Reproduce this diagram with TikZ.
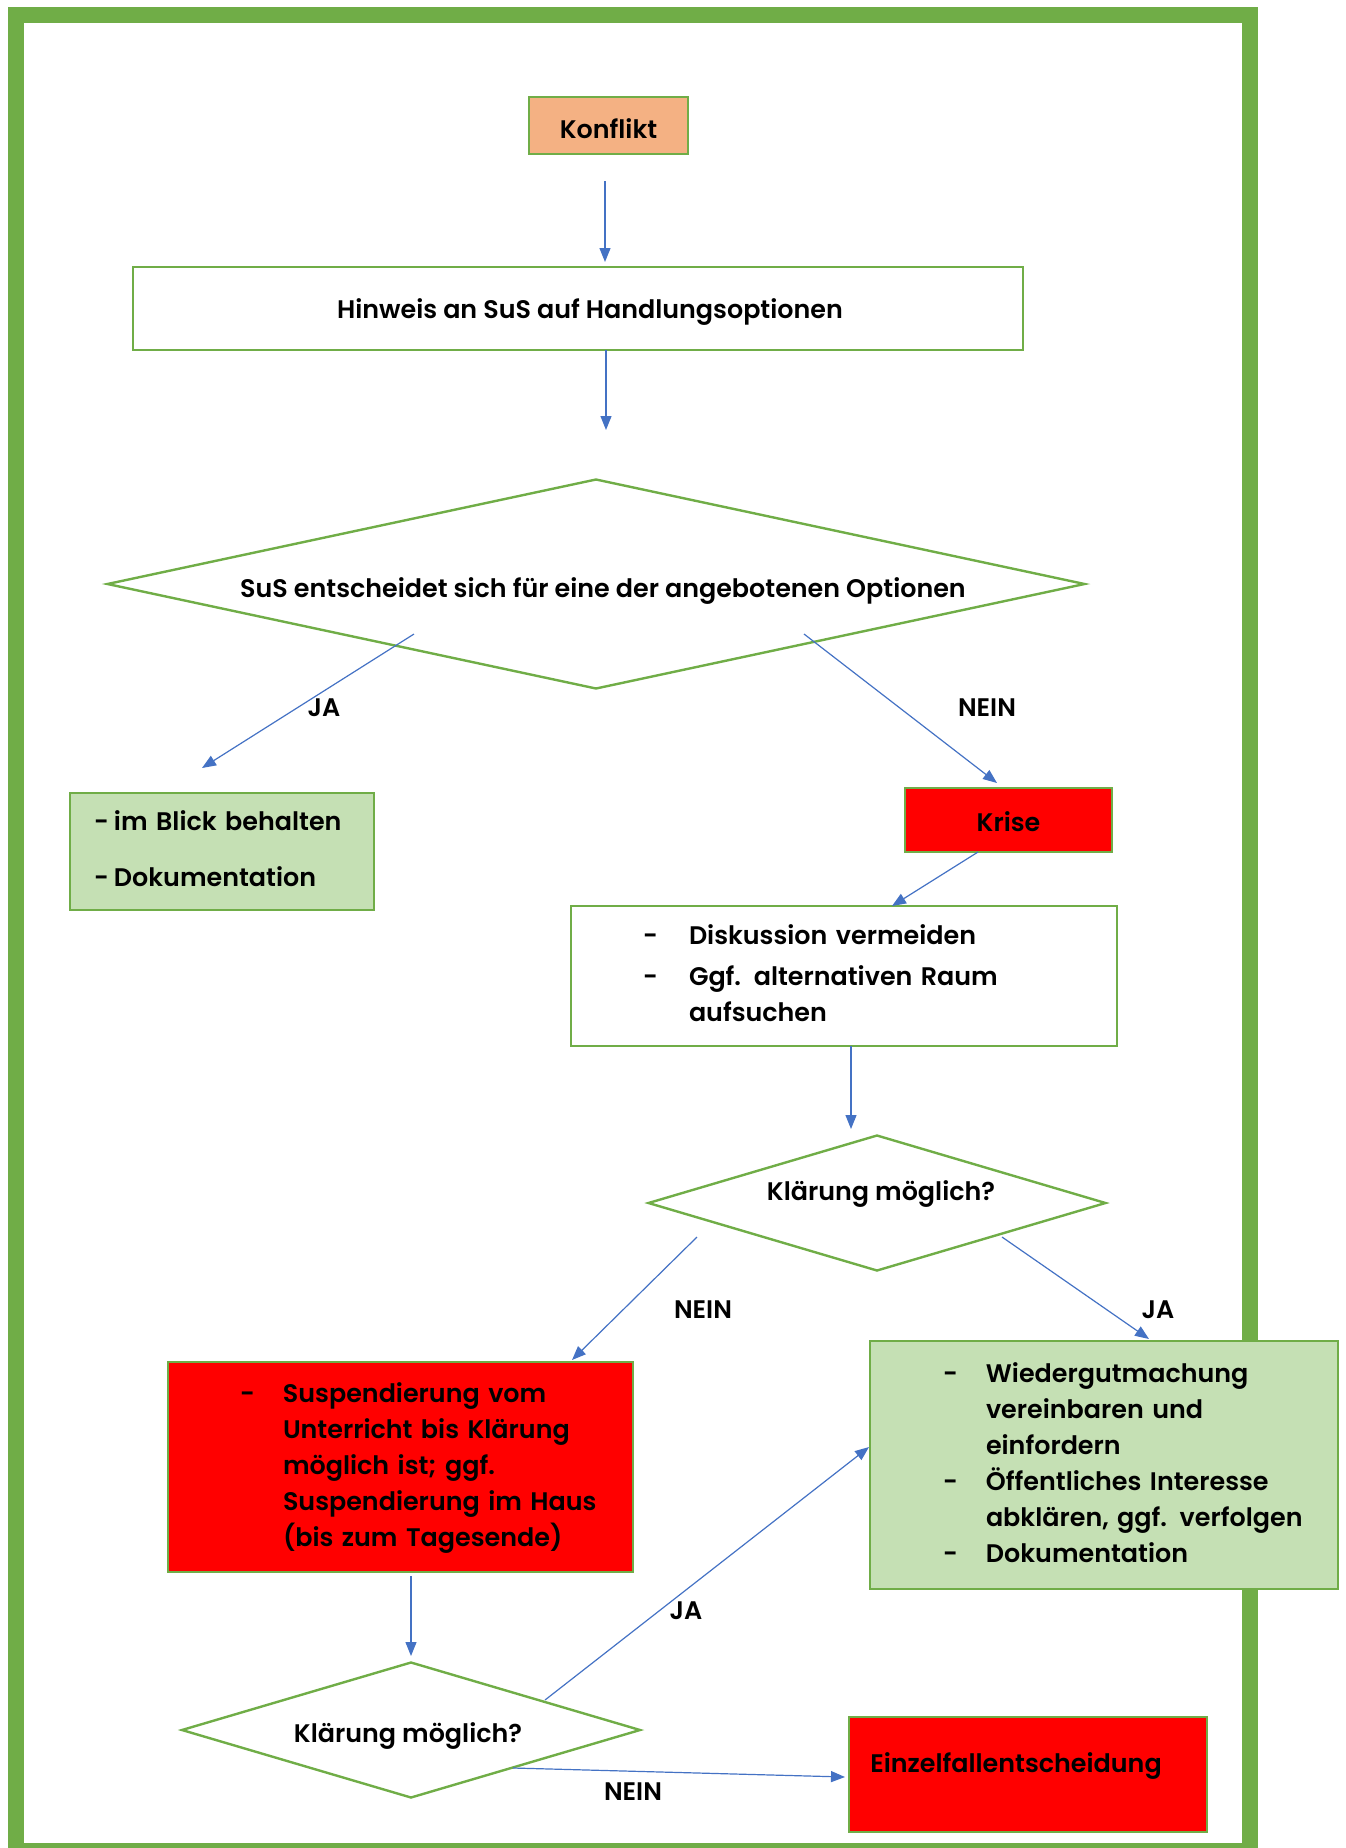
\documentclass[tikz,border=0pt]{standalone}
\usepackage{fontspec}
\setmainfont{Poppins}[UprightFont=*-SemiBold]
\usetikzlibrary{shapes.geometric,arrows.meta,calc}
\definecolor{framegreen}{HTML}{70AD47}
\definecolor{peach}{HTML}{F4B183}
\definecolor{lgreen}{HTML}{C5E0B4}
\definecolor{arrowblue}{HTML}{4472C4}
\definecolor{boxred}{HTML}{FF0000}
\begin{document}
\begin{tikzpicture}[x=0.5pt,y=-0.5pt,
  font=\fontsize{12.7}{18}\selectfont,
  box/.style={draw=framegreen, line width=1.2pt, rectangle, inner sep=0pt},
  listbox/.style={box, align=left},
  dia/.style={draw=framegreen, line width=1.2pt, diamond, inner sep=0pt},
  conn/.style={draw=arrowblue, line width=0.6pt, -{Triangle[length=7pt,width=5.5pt]}},
  lbl/.style={inner sep=0pt}]
\useasboundingbox (0,0) rectangle (1345,1848);
\draw[framegreen, line width=8pt] (16,15) rectangle (1250,1851);

\node[box, fill=peach, minimum width=79.5pt, minimum height=28.5pt, text height=12.5pt, text depth=0pt] (konflikt) at (608.5,125.5) {Konflikt};
\node[box, minimum width=445pt, minimum height=41.5pt, text height=9.5pt, text depth=0pt] (hinweis) at (578,308.5) {\kern12pt Hinweis an SuS auf Handlungsoptionen};
\node[dia, shape aspect=4.66, minimum width=489pt, minimum height=105pt, text height=13pt, text depth=0pt] (d1) at (596,584) {\kern7pt SuS entscheidet sich für eine der angebotenen Optionen};

\node[listbox, fill=lgreen, minimum width=152pt, minimum height=58.5pt, text width=128pt, inner xsep=12pt] (blick) at (222,851.5)
  {\begin{tabular}{@{}p{10pt}@{}l@{}}-&im Blick behalten\\[10pt] -&Dokumentation\end{tabular}};
\node[box, fill=boxred, minimum width=103.5pt, minimum height=32pt, text height=11pt, text depth=0pt] (krise) at (1008.5,820) {Krise};
\node[listbox, minimum width=273pt, minimum height=70pt, text width=201pt, inner xsep=36pt] (disk) at (844,976)
  {\begin{tabular}{@{}p{23pt}@{}l@{}}-&Diskussion vermeiden\\[2.5pt] -&Ggf. alternativen Raum\\ &aufsuchen\end{tabular}};

\node[dia, shape aspect=3.37, minimum width=229pt, minimum height=68pt, text height=0pt, text depth=3pt] (d2) at (877,1203) {\kern4pt Klärung möglich?};

\node[listbox, fill=boxred, minimum width=232.5pt, minimum height=105pt, text width=160.5pt, inner xsep=36pt] (susp) at (400.5,1467)
  {\begin{tabular}{@{}p{21.5pt}@{}l@{}}-&Suspendierung vom\\ &Unterricht bis Klärung\\ &möglich ist; ggf.\\ &Suspendierung im Haus\\ &(bis zum Tagesende)\end{tabular}};
\node[listbox, fill=lgreen, minimum width=234pt, minimum height=124pt, text width=161pt, inner xsep=36.5pt] (wieder) at (1104,1465)
  {\begin{tabular}{@{}p{21.5pt}@{}l@{}}-&Wiedergutmachung\\ &vereinbaren und\\ &einfordern\\ -&Öffentliches Interesse\\ &abklären, ggf. verfolgen\\ -&Dokumentation\end{tabular}};

\node[dia, shape aspect=3.37, minimum width=229.5pt, minimum height=68pt, text height=12pt, text depth=0pt] (d3) at (411,1730) {Klärung möglich?\kern3pt};
\node[box, fill=boxred, minimum width=179pt, minimum height=57.5pt, text height=0pt, text depth=2.5pt] (einzel) at (1028,1774.5)
  {Einzelfallentscheidung\kern12pt};

% connectors
\draw[conn] ($(konflikt.center)+(-3.5,55.5)$) -- ($(hinweis.center)+(27,-46.5)$);
\draw[conn] ($(hinweis.center)+(28,41.5)$) -- ($(d1.center)+(10,-154)$);
\draw[conn] ($(d1.center)+(-182,50)$) -- ($(blick.center)+(-20,-83.5)$);
\draw[conn] ($(d1.center)+(208,50)$) -- ($(krise.center)+(-11.5,-37)$);
\draw[conn] ($(krise.center)+(-30.5,32)$) -- ($(disk.center)+(48,-70)$);
\draw[conn] ($(disk.center)+(7,70)$) -- ($(d2.center)+(-26,-74)$);
\draw[conn] ($(d2.center)+(-180,34)$) -- ($(susp.center)+(171.5,-107)$);
\draw[conn] ($(d2.center)+(125,34)$) -- ($(wieder.center)+(45,-126)$);
\draw[conn] ($(susp.center)+(10.5,109)$) -- ($(d3.center)+(0,-74)$);
\draw[conn] ($(d3.center)+(134,-30)$) -- ($(wieder.center)+(-235,-18)$);
\draw[conn] ($(d3.center)+(102,38)$) -- ($(einzel.center)+(-183,2.5)$);

% labels
\node[lbl] (ja1) at (324,708) {JA};
\node[lbl] (nein1) at (987,708) {NEIN};
\node[lbl] (nein2) at (703,1310) {NEIN};
\node[lbl] (ja2) at (1158,1310) {JA};
\node[lbl] (ja3) at (686,1611) {JA};
\node[lbl] (nein3) at (633,1792) {NEIN};
\end{tikzpicture}
\end{document}
